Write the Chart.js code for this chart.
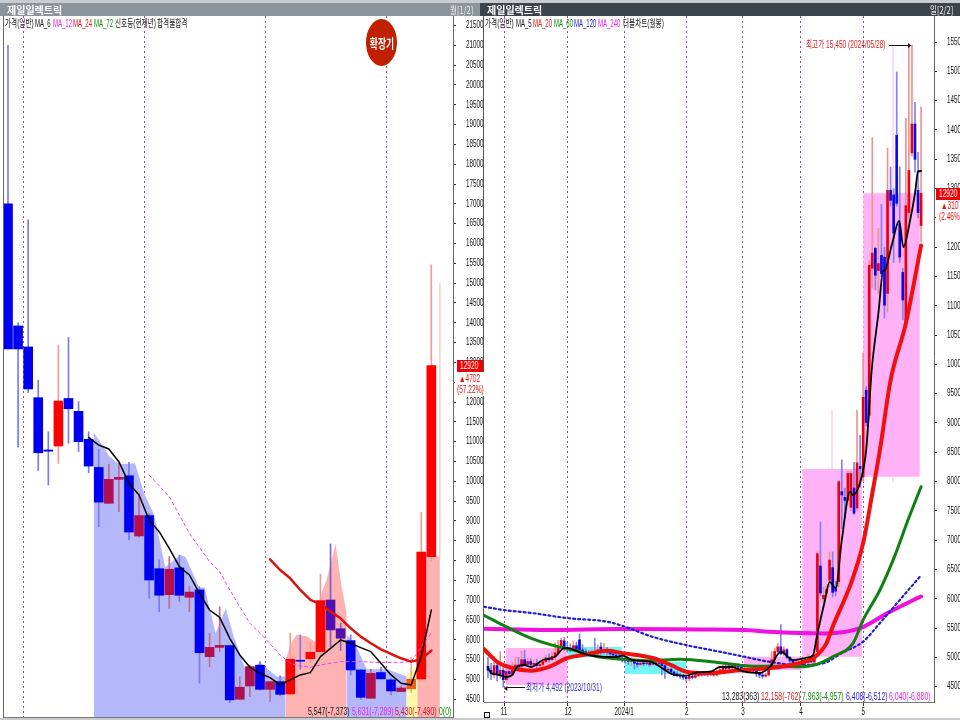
<!DOCTYPE html>
<html>
<head>
<meta charset="utf-8">
<script src="https://cdn.jsdelivr.net/npm/chart.js@4"></script>
<style>
html, body { margin: 0; padding: 0; background: #fff; }
body { width: 960px; height: 720px; position: relative; overflow: hidden;
       font-family: "Liberation Sans", "Noto Sans CJK KR", sans-serif; }
canvas { position: absolute; top: 0; }
#leftChart { left: 0; }
#rightChart { left: 484px; background: #fff; }
.t { position: absolute; font-size: 10px; line-height: 11px; white-space: nowrap; color: #111;
     transform: scaleX(.66); transform-origin: left center; }
.v { font-size: 11px; transform: scaleX(.63); }
.ma { transform: scaleX(.6); }
.bar { position: absolute; top: 3px; height: 13px; }
.hd { position: absolute; top: 3px; height: 13px; line-height: 13px; font-size: 10px; font-weight: bold; color: #fff;
      font-family: "Noto Sans CJK KR", sans-serif; white-space: nowrap; }
.line { position: absolute; background: #111; }
.box { position: absolute; background: #f00000; }
.cover { position: absolute; background: #fff; }
</style>
</head>
<body>
<canvas id="leftChart" width="484" height="720"></canvas>
<canvas id="rightChart" width="476" height="720"></canvas>

<div style="position:absolute;left:0;top:0;width:960px;height:3px;background:#c8ccd0"></div>
<div class="bar" style="left:0;width:480px;background:#8c959c"></div>
<div class="bar" style="left:480px;width:480px;background:#3c444c"></div>
<div class="hd" style="left:7px">제일일렉트릭</div>
<div class="hd" style="left:487px">제일일렉트릭</div>
<div class="hd" style="left:450px;font-weight:normal;color:#eee;transform:scaleX(.75);transform-origin:left center">월[1/2]</div>
<div class="hd" style="left:930px;font-weight:normal;color:#eee;transform:scaleX(.75);transform-origin:left center">일[2/2]</div>
<div class="line" style="left:3px;top:16px;width:1px;height:702px;background:#666"></div>
<div class="line" style="left:483px;top:16px;width:1px;height:686px;background:#555"></div>
<div style="position:absolute;left:0;top:718px;width:960px;height:2px;background:#c8ccd0"></div>

<span class="t" style="left:5px;top:18px">가격(일반)</span>
<span class="t ma" style="left:35px;top:18px">MA_6</span>
<span class="t ma" style="left:53px;top:18px;color:#f020f0">MA_12</span>
<span class="t ma" style="left:73px;top:18px;color:#f01010">MA_24</span>
<span class="t ma" style="left:94px;top:18px;color:#109010">MA_72</span>
<span class="t" style="left:115px;top:18px">신호등(현재년)</span>
<span class="t" style="left:157px;top:18px">합격불합격</span>

<span class="t" style="left:485px;top:18px">가격(일반)</span>
<span class="t ma" style="left:516px;top:18px">MA_5</span>
<span class="t ma" style="left:533px;top:18px;color:#f01010">MA_20</span>
<span class="t ma" style="left:554px;top:18px;color:#109010">MA_60</span>
<span class="t ma" style="left:574px;top:18px;color:#2020e0">MA_120</span>
<span class="t ma" style="left:598px;top:18px;color:#f020f0">MA_240</span>
<span class="t" style="left:623px;top:18px">더블차트(월봉)</span>

<div style="position:absolute;left:366px;top:19px;width:31px;height:47px;border-radius:50%;background:#c02000;color:#fff;font:bold 13px/47px 'Noto Sans CJK KR',sans-serif;text-align:center;white-space:nowrap;overflow:hidden"><span style="display:inline-block;transform:scaleX(.68);margin:0 -10px">확장기</span></div>

<div class="cover" style="left:455px;top:372px;width:29px;height:24px"></div>
<div class="box" style="left:457px;top:360px;width:26px;height:12px"></div>
<span class="t" style="left:460px;top:360px;color:#fff">12920</span>
<span class="t" style="left:459px;top:373px;color:#e01010">▲4702</span>
<span class="t" style="left:457px;top:384px;color:#e01010">(57.22%)</span>
<div class="cover" style="left:936px;top:200px;width:24px;height:23px"></div>
<div class="box" style="left:936px;top:188px;width:24px;height:12px"></div>
<span class="t" style="left:939px;top:188px;color:#fff">12920</span>
<span class="t" style="left:941px;top:200px;color:#e01010">▲310</span>
<span class="t" style="left:939px;top:211px;color:#e01010">(2.46%)</span>

<span class="t" style="left:806px;top:39px;color:#e02020">최고가 15,450 (2024/05/28)</span>
<div class="line" style="left:889px;top:45px;width:22px;height:1px"></div>
<span class="t" style="left:908px;top:39px">▸</span>
<span class="t" style="left:526px;top:682px;color:#3030c0">최저가 4,492 (2023/10/31)</span>
<div class="line" style="left:506px;top:687px;width:19px;height:1px"></div>
<span class="t" style="left:504px;top:682px">◂</span>

<span class="t v" style="left:308px;top:706px">5,547(-7,373)</span>
<span class="t v" style="left:352px;top:706px;color:#f020f0">5,631(-7,289)</span>
<span class="t v" style="left:395px;top:706px;color:#f01010">5,430(-7,490)</span>
<span class="t v" style="left:439px;top:706px;color:#109010">0(0)</span>

<span class="t v" style="left:722px;top:691px">13,283(363)</span>
<span class="t v" style="left:761px;top:691px;color:#f01010">12,158(-762)</span>
<span class="t v" style="left:802px;top:691px;color:#109010">7,963(-4,957)</span>
<span class="t v" style="left:846px;top:691px;color:#2020e0">6,408(-6,512)</span>
<span class="t v" style="left:889px;top:691px;color:#f020f0">6,040(-6,880)</span>
<div style="position:absolute;left:484px;top:712px;width:4px;height:4px;border:1px solid #111"></div>

<script>
// monthly chart (left) - one candle per month
const leftOpen = [17000,13920,13390,12110,10790,10890,12090,11765,11060,10350,9445,10050,10140,8620,9135,7795,7140,7815,7075,7260,5575,5810,5855,4500,4835,5360,4750,4945,4635,5470,5525,5700,7005,6280,5980,5240,4525,5175,4990,4695,4765,5015,8100];
const leftClose = [13340,13340,12330,10720,10760,12025,11830,11000,10385,9475,10050,10100,8720,9135,7510,7125,7780,7125,7205,5675,5810,5860,4485,4805,5325,4750,4945,4625,5510,5460,5685,6990,6250,6040,5240,4550,5155,5015,4710,4785,5005,8215,12920];
const leftHigh = [21000,14000,16600,12550,11250,13440,13630,12010,11250,10805,10435,10455,10480,9695,9190,8015,8100,8140,7340,7340,6165,6835,5870,5070,5365,5450,4945,5090,6165,6125,5955,7660,8420,6415,6125,5255,5255,5305,5030,4835,5560,9215,15460];
const leftLow = [13340,10860,12235,10270,9905,10450,10960,10750,10215,8855,9445,9235,8520,8585,7050,6710,6795,6965,6710,4905,5325,5700,4415,4500,4565,4735,4440,4585,4610,5255,5425,5575,5830,5730,5115,4500,4525,5015,4610,4695,4670,4945,7975];
const leftKind = ['d','d','d','d','d','u','d','d','d','d','c','c','d','c','d','d','c','d','c','d','c','c','d','c','c','d','c','d','u','d','u','u','p','p','d','d','c','d','d','c','o','u','u'];

const ma6X = [8,9,10,11,12,13,14,15,16,17,18,19,20,21,22,23,24,25,26,27,28,29,30,31,32,33,34,35,36,37,38,39,40,41,42];
const ma6Y = [11108,10915,10814,10495,9948,9654,9023,8729,8309,7846,7636,7174,6753,6568,6039,5618,5307,5156,5046,4862,4988,5114,5173,5576,5786,5997,5913,5803,5702,5408,5114,4904,4862,5576,6753];
const ma12X = [14,16,18,20,21,22,23,24,25.5,27,28,29,30,31,33,35,37,39,40,41,42];
const ma12Y = [10159,9612,8687,7973,7720,7258,6837,6417,6039,5618,5408,5341,5307,5366,5450,5450,5425,5433,5450,5828,6165];
const ma24X = [26,27,28,29,30,31,32,33,34,35,36,37,38,39,40,41,42];
const ma24Y = [8031,7762,7552,7258,7006,6904,6711,6543,6291,6081,5913,5761,5643,5534,5450,5509,5728];

// traffic light areas behind the monthly candles
const blueAreaX = [8.53,10.1,11,12.6,13.5,14.5,15.6,17.1,17.6,19,19.5,20.6,21.6,22.4,23.7,25,26.65,27.55];
const blueAreaY = [11226,10621,10428,10453,9696,9150,7830,8141,8099,7300,7325,6165,6795,6081,5156,5425,5072,5072];
const redAreaX = [27.55,28.1,28.6,29.6,30.6,31.1,31.6,32.5,33.1,33.6];
const redAreaY = [5509,5913,6123,6098,5929,7174,7510,8418,7342,6669];
const blueArea2X = [33.6,34.4,35.6,37.6,39.55];
const blueArea2Y = [6123,5913,5257,5257,5072];
const yellowAreaX = [39.55,40.6];
const yellowAreaY = [5156,5324];
const redArea2X = [40.6,42.85];
const redArea2Y = [8200,8100];
const redSpikeX = [42.85,42.85];
const redSpikeY = [8100,15000];

const leftMonths = [1.52,13.56,25.57,37.57];
const leftTicks = [4500,5000,5500,6000,6500,7000,7500,8000,8500,9000,9500,10000,10500,11000,11500,12000,12500,13000,13500,14000,14500,15000,15500,16000,16500,17000,17500,18000,18500,19000,19500,20000,20500,21000,21500];

// daily chart (right)
const rightOpen = [4850,4780,4700,4860,4700,4780,4620,4760,4720,4800,4870,4850,4960,4880,4930,4880,4900,4860,4880,4930,4990,4960,5020,5080,5180,5280,5170,5150,5120,5200,5300,5130,5100,5070,5050,5100,5060,5180,5100,5110,5090,5060,5040,5020,4990,4960,4950,4930,4950,4900,4880,4900,4890,4900,4880,4900,4890,4910,4860,4780,4800,4750,4720,4700,4680,4660,4640,4680,4660,4690,4720,4700,4730,4720,4750,4700,4740,4790,4840,4810,4860,4840,4850,4830,4800,4790,4770,4800,4770,4720,4700,4680,4700,4820,4960,5100,5180,5060,5130,5000,4940,4860,4900,4880,4960,4910,4950,4920,5100,6560,6000,6100,6320,6530,6170,6290,7830,7730,7680,7560,7890,7550,8260,8080,9560,9130,11640,11980,11600,11860,11830,11210,12970,12890,13910,12400,11570,10640,12590,13610,14100,12970,12370];
const rightClose = [4780,4720,4860,4700,4780,4620,4760,4720,4800,4870,4850,4960,4880,4930,4880,4900,4860,4880,4930,4990,4960,5020,5080,5180,5290,5170,5150,5120,5200,5140,5130,5100,5070,5050,5100,5060,5130,5100,5110,5090,5060,5040,5020,4990,4960,4950,4930,4950,4900,4880,4900,4890,4900,4880,4900,4890,4910,4860,4780,4800,4750,4720,4700,4680,4660,4640,4680,4660,4690,4720,4700,4730,4720,4750,4700,4740,4790,4840,4810,4860,4840,4850,4830,4800,4790,4770,4800,4770,4720,4700,4680,4700,4820,4960,5100,5180,5060,5130,5000,4940,4860,4900,4880,4960,4910,4950,4920,5000,6770,6100,6060,6160,6660,6110,6130,8000,7770,7680,8140,8140,7460,8320,8220,9440,9010,11690,11900,11520,11720,11550,11010,12970,12800,12240,12750,11830,11100,12710,13310,14100,13500,12590,12920];
const rightHigh = [5000,4900,5020,4950,5100,4830,4880,4870,4920,5000,5000,5110,5120,4990,4980,4960,4970,4940,4990,5040,5060,5090,5250,5290,5330,5340,5260,5230,5280,5260,5400,5220,5150,5120,5140,5330,5210,5250,5240,5170,5140,5110,5090,5060,5030,5000,4990,4990,4970,4930,4930,4930,4930,4920,4930,4920,4940,4920,4870,4830,4820,4770,4760,4730,4710,4690,4730,4720,4720,4750,4750,4760,4770,4780,4790,4780,4830,4890,4880,4900,4900,4890,4890,4860,4830,4820,4850,4830,4790,4750,4730,4730,4880,5100,5160,5240,5560,5180,5150,5020,4960,4940,4930,5010,4990,5050,4990,5060,6800,7310,6200,6220,6800,6800,6300,8020,8370,7890,8180,8180,8330,9220,8790,10190,9620,11780,13870,12000,12320,12730,12000,13690,13370,13000,14990,13370,11640,14200,15413,15450,14470,13620,14390];
const rightLow = [4650,4620,4650,4600,4640,4492,4600,4660,4690,4770,4800,4830,4850,4850,4840,4840,4810,4820,4850,4900,4920,4940,4950,5040,5150,5120,5100,5090,5100,5100,5100,5060,5030,5010,5020,5010,5040,5050,5060,5040,5010,4990,4970,4950,4920,4900,4880,4870,4800,4830,4860,4860,4870,4850,4860,4860,4870,4700,4640,4740,4720,4690,4670,4640,4620,4590,4600,4630,4640,4670,4680,4690,4680,4690,4680,4680,4700,4760,4770,4780,4810,4800,4790,4770,4750,4730,4740,4740,4670,4650,4640,4660,4680,4800,4940,5080,5040,5020,4980,4900,4830,4830,4840,4860,4880,4890,4900,4900,5050,6050,5950,6040,6200,6030,6050,6200,7200,7380,7600,7500,7440,7500,7900,8000,8950,9050,11300,11270,11210,11500,10790,10890,12700,11740,12700,11740,10760,10640,12500,13550,13280,12500,12090];

const ma5X = [0,1,3,6,8,9.5,12,14,18,22,25,26,30,33,42,44,47.5,54,57,61,65,68.5,73,76,80,84,89,92.5,96,100,104.5,106.6,107.8,110.5,112,114,116,118.7,119.6,122.5,124,125.8,128,129.6,130,132.4,134.8,136.2,138.4,140,141,142];
const ma5Y = [4830,4734,4710,4665,4700,4836,4870,4836,4955,5012,5160,5160,5090,5040,5006,5030,4955,4916,4820,4700,4688,4745,4756,4836,4836,4756,4734,4841,5097,4955,4995,5040,5353,5980,6290,6180,7000,7830,7770,8080,8540,9900,10870,11600,11600,12040,12450,12000,12460,12920,13290,13300];
const ma20X = [-1.3,3,8,14,20,26,32.5,39,44,54,60,65,72,80,88,96,102,107,111,113,119,123,126,128.5,132,137,142];
const ma20Y = [5140,4925,4820,4773,4840,4990,5055,5114,5073,4990,4870,4756,4730,4770,4800,4840,4900,5000,5245,5524,6264,6950,7800,8540,9730,10700,12030];
const ma60X = [-1.3,5,14,21,28,36,44,52,63,76,88,96,102,107,113,119.7,123,128.5,133.5,137.7,142];
const ma60Y = [5720,5550,5330,5210,5126,5012,4970,4943,4970,4910,4850,4850,4840,4870,5012,5245,5640,6150,6750,7344,7912];
const ma120X = [-1.3,5,14,26,39,44,54,65,76,84,92,102,110,116,123,128.5,135,142];
const ma120Y = [5865,5810,5760,5670,5610,5540,5350,5210,5097,5012,4927,4870,4900,5075,5270,5586,5980,6400];
const ma240X = [-1.3,20,44,70,84,92,102,111,122,131,139.5,142];
const ma240Y = [5490,5467,5484,5475,5467,5438,5416,5410,5500,5757,5980,6040];

// monthly candles shown behind the daily ones
const boxFrom = [5.9,26.1,44.9,83.9,103,123];
const boxTo = [26.1,43.9,64.9,102.6,122.6,141.6];
const boxTop = [5160,5177,4927,5012,8216,12922];
const boxBottom = [4530,5012,4716,4785,5012,8083];
const boxKind = ['u','d','d','u','u','u'];
const boxWickX = [112.8,132.8];
const boxWickHigh = [9220,15450];
const boxWickLow = [8216,7990];

const rightMonths = [5.25,26.2,44.6,65.2,83.6,102.6,123];
const rightMonthLabels = ['11','12','2024/1','2','3','4','5'];
const rightTicks = [4500,5000,5500,6000,6500,7000,7500,8000,8500,9000,9500,10000,10500,11000,11500,12000,12500,13000,13500,14000,14500,15000,15500];

const pts = (xs, ys) => xs.map((x, i) => ({x: x, y: ys[i]}));

function line(xs, ys, color, width, dash, order, smooth) {
    return {
        type: 'line', data: pts(xs, ys), borderColor: color, borderWidth: width, borderDash: dash || [],
        pointRadius: 0, fill: false, order: order,
        cubicInterpolationMode: smooth ? 'monotone' : 'default', tension: 0,
        borderCapStyle: 'round', borderJoinStyle: 'round'
    };
}

function area(xs, ys, color) {
    return {
        type: 'line', data: pts(xs, ys), backgroundColor: color, borderWidth: 0, borderColor: 'transparent',
        pointRadius: 0, fill: 'start', tension: 0, order: 20
    };
}

function candles(open, close, high, low, bodyColors, wickColors, bodyWidth) {
    const wick = {
        type: 'bar', grouped: false, data: high.map((h, i) => ({x: i, y: [low[i], h]})),
        backgroundColor: wickColors, barThickness: 1, order: 10
    };
    const body = {
        type: 'bar', grouped: false, data: open.map((o, i) => ({x: i, y: [o, close[i]]})),
        backgroundColor: bodyColors, barThickness: bodyWidth, minBarLength: 1, order: 9
    };
    return [wick, body];
}

// the original axis font is a condensed one, squeeze the tick labels to match
const narrowTicks = {
    id: 'narrowTicks',
    afterDraw(chart, args, opts) {
        const ctx = chart.ctx;
        const y = chart.scales.y;
        const x = chart.scales.x;
        ctx.save();
        ctx.fillStyle = '#111';
        ctx.font = '10px "Liberation Sans", sans-serif';
        ctx.textBaseline = 'middle';
        ctx.textAlign = 'left';
        y.ticks.forEach(t => {
            ctx.save();
            ctx.translate(y.left + 13, y.getPixelForValue(t.value));
            ctx.scale(0.63, 1);
            ctx.fillText(String(t.value), 0, 0);
            ctx.restore();
        });
        ctx.textAlign = 'center';
        (opts.labels || []).forEach((label, i) => {
            ctx.save();
            ctx.translate(x.getPixelForValue(x.ticks[i].value), x.top + 10);
            ctx.scale(0.63, 1);
            ctx.fillText(label, 0, 0);
            ctx.restore();
        });
        ctx.restore();
    }
};

function makeChart(id, datasets, xMin, xMax, yMin, yMax, yWidth, yTicks, months, monthLabels, padBottom, xHeight) {
    return new Chart(document.getElementById(id), {
        type: 'bar',
        data: {datasets: datasets},
        plugins: [narrowTicks],
        options: {
            responsive: false, animation: false, devicePixelRatio: 1, events: [],
            layout: {padding: {left: id === 'leftChart' ? 3 : 0, right: 0, top: 16, bottom: padBottom}},
            plugins: {legend: {display: false}, tooltip: {enabled: false}, title: {display: false}, narrowTicks: {labels: monthLabels}},
            scales: {
                x: {
                    type: 'linear', min: xMin, max: xMax, offset: false,
                    afterBuildTicks: s => { s.ticks = months.map(v => ({value: v})); },
                    afterFit: s => { s.height = xHeight; },
                    grid: {offset: false, color: '#a848a8', lineWidth: 1, drawTicks: monthLabels !== null, tickLength: 4, tickColor: '#333'},
                    border: {display: true, color: '#777', dash: [2, 3]},
                    ticks: {display: false}
                },
                y: {
                    position: 'right', min: yMin, max: yMax,
                    afterBuildTicks: s => { s.ticks = yTicks.map(v => ({value: v})); },
                    afterFit: s => { s.width = yWidth; },
                    grid: {drawOnChartArea: false, drawTicks: true, tickLength: 3, color: '#333'},
                    border: {display: true, color: '#666'},
                    ticks: {display: false}
                }
            }
        }
    });
}

const leftBodyColor = {u: '#ff0000', d: '#0000f0', c: '#b0104f', p: '#5010b0', o: '#f06010'};
const leftWickColor = {u: '#f09a9a', d: '#7a7aee', c: '#c46a88', p: '#7a60d0', o: '#f0b090'};

makeChart('leftChart', [
    area(blueAreaX, blueAreaY, '#b4b8fb'),
    area(redAreaX, redAreaY, '#ffb2b2'),
    area(blueArea2X, blueArea2Y, '#b4b8fb'),
    area(yellowAreaX, yellowAreaY, '#fff8a8'),
    area(redArea2X, redArea2Y, '#ffb2b2'),
    line(redSpikeX, redSpikeY, '#ffb2b2', 1, [], 19),
    ...candles(leftOpen, leftClose, leftHigh, leftLow,
        leftKind.map(k => leftBodyColor[k]), leftKind.map(k => leftWickColor[k]), 9),
    line(ma24X, ma24Y, '#e01010', 2.5, [], 3),
    line(ma12X, ma12Y, '#f040f0', 1, [3, 3], 4),
    line(ma6X, ma6Y, '#000000', 1.5, [], 2)
], -0.496, 44.15, 4053, 21740, 31, leftTicks, leftMonths, null, 3, 0);

const rightBox = {u: '#ffb2f6', d: '#70f6f6'};
const boxSets = boxFrom.map((from, i) => ({
    type: 'line', data: pts([from, boxTo[i]], [boxTop[i], boxTop[i]]),
    backgroundColor: rightBox[boxKind[i]], borderWidth: 0, borderColor: 'transparent',
    pointRadius: 0, fill: {value: boxBottom[i]}, order: 20
}));
const boxWicks = boxWickX.map((x, i) => line([x, x], [boxWickLow[i], boxWickHigh[i]], '#ffb2f6', 1, [], 19));

const rightBodies = rightOpen.map((o, i) => rightClose[i] >= o ? '#e80010' : '#0808e8');
const rightWicks = rightOpen.map((o, i) => rightClose[i] >= o ? '#f09090' : '#8080f0');

makeChart('rightChart', [
    ...boxSets,
    ...boxWicks,
    ...candles(rightOpen, rightClose, rightHigh, rightLow, rightBodies, rightWicks, 2),
    line(ma240X, ma240Y, '#f010e0', 4, [], 6, true),
    line(ma120X, ma120Y, '#2020d0', 2.2, [2, 3], 5, true),
    line(ma60X, ma60Y, '#108010', 3, [], 4, true),
    line(ma20X, ma20Y, '#f01010', 4, [], 3, true),
    line(ma5X, ma5Y, '#000000', 1.8, [], 2, true)
], -1.31, 146.23, 4239, 15945, 26, rightTicks, rightMonths, rightMonthLabels, 0, 18);
</script>
</body>
</html>
